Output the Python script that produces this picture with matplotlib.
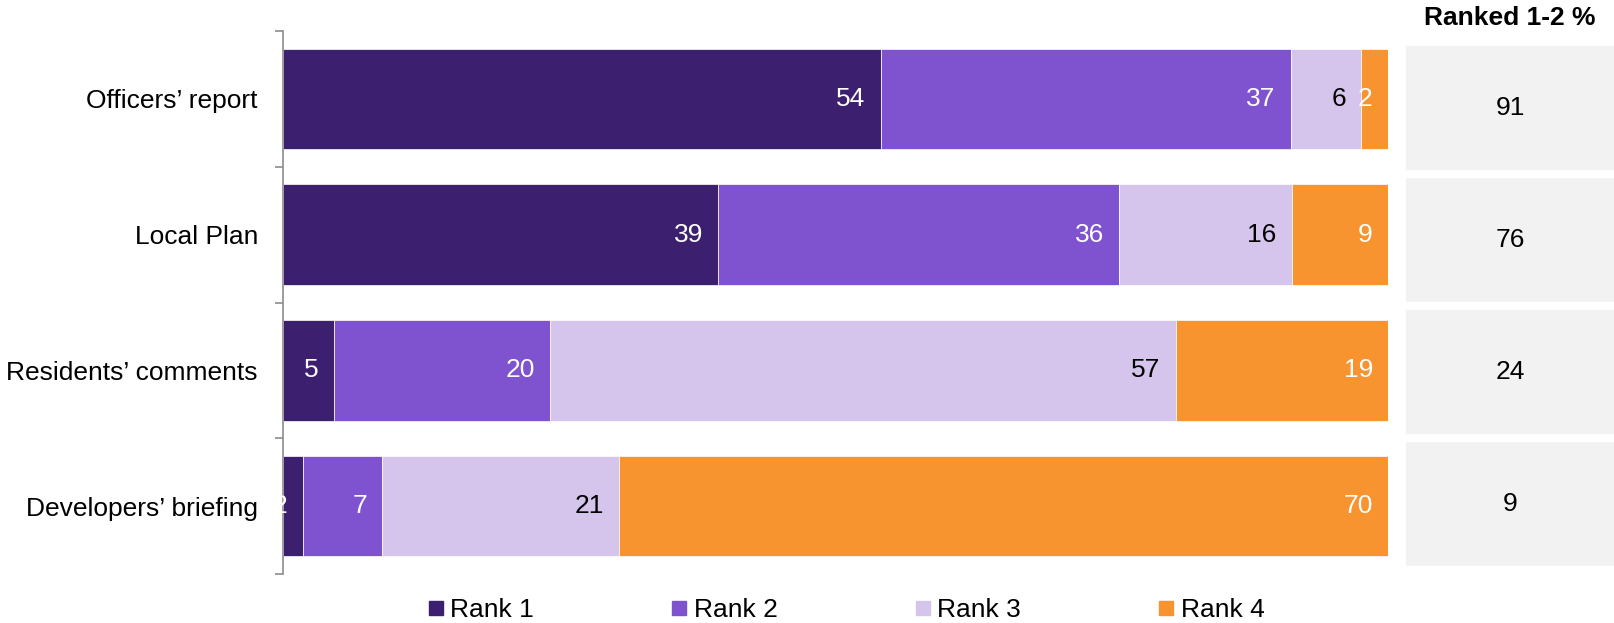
import numpy as np
import matplotlib
matplotlib.use('Agg')
import matplotlib.pyplot as plt
from matplotlib.lines import Line2D

plt.rcParams['font.family'] = ['Liberation Sans', 'DejaVu Sans']

categories = ["Officers’ report", "Local Plan", "Residents’ comments", "Developers’ briefing"]
rank_names = ['Rank 1', 'Rank 2', 'Rank 3', 'Rank 4']
# percentages (unrounded)
rank1 = [54.1, 39.4, 4.6, 1.8]
rank2 = [37.1, 36.3, 19.6, 7.2]
rank3 = [6.4, 15.6, 56.6, 21.4]
rank4 = [2.4, 8.7, 19.3, 69.6]
ranked_12 = [91, 76, 24, 9]

colors = ['#3c1f6e', '#7f52cf', '#d5c5ec', '#f7942f']
text_colors = ['white', 'white', 'black', 'white']
fs = 19

W, H = 1615, 623
fig = plt.figure(figsize=(W / 100, H / 100), dpi=100)

# main stacked bars
ax = fig.add_axes([283 / W, 1 - 574 / H, (1388 - 283) / W, (574 - 31) / H])
series = [rank1, rank2, rank3, rank4]
y = np.arange(len(categories))
left = np.zeros(len(categories))
for i, vals in enumerate(series):
    bars = ax.barh(y, vals, left=left, height=0.74, color=colors[i],
                   edgecolor='white', linewidth=0.5)
    for j, v in enumerate(vals):
        ax.annotate('%.0f' % v, (left[j] + v, y[j]),
                    xytext=(-11, 0), textcoords='offset points',
                    ha='right', va='center', color=text_colors[i], fontsize=fs,
                    annotation_clip=False)
    left += np.array(vals)

ax.set_xlim(0, 100)
ax.set_ylim(3.5, -0.5)
ax.set_yticks(y)
ax.set_yticklabels(categories, fontsize=fs)
ax.set_yticks(np.arange(-0.5, 4, 1), minor=True)
ax.tick_params(axis='y', which='major', length=0, pad=18)
ax.tick_params(axis='y', which='minor', length=6, color='#8c8c8c', width=1.2)
ax.set_xticks([])
for s in ['top', 'right', 'bottom']:
    ax.spines[s].set_visible(False)
ax.spines['left'].set_color('#8c8c8c')
ax.spines['left'].set_linewidth(1.2)

# right side boxes
ax2 = fig.add_axes([1406 / W, 1 - 570 / H, (W - 1406) / W, (570 - 42) / H])
ax2.barh(y, [1] * len(y), height=0.94, color='#f2f2f2')
for j, v in enumerate(ranked_12):
    ax2.text(0.5, y[j], str(v), ha='center', va='center', fontsize=fs)
ax2.set_xlim(0, 1)
ax2.set_ylim(3.5, -0.5)
ax2.axis('off')
fig.text(1510 / W, 1 - 18 / H, 'Ranked 1-2 %', ha='center', va='center',
         fontsize=fs, fontweight='bold')

# legend
handles = [Line2D([], [], marker='s', linestyle='none', markersize=10,
                  markerfacecolor=c, markeredgecolor=c) for c in colors]
fig.legend(handles, rank_names, loc='center', bbox_to_anchor=(846 / W, 1 - 610 / H),
           ncol=4, frameon=False, fontsize=fs, handlelength=0.6,
           handletextpad=0.25, columnspacing=5.2, borderpad=0)

fig.savefig('out.png', dpi=100)
